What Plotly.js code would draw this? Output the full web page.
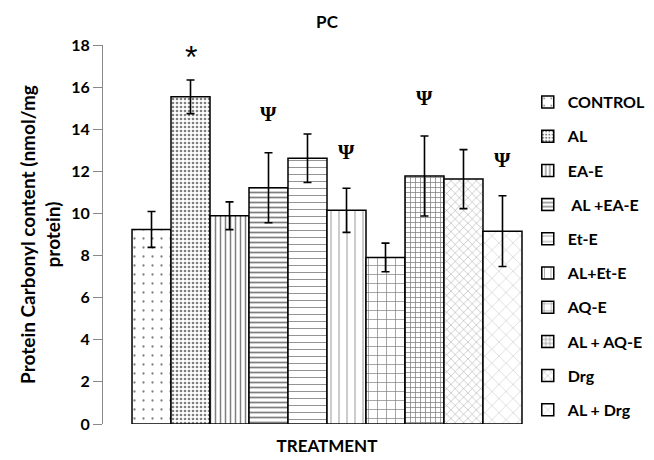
<!DOCTYPE html>
<html>
<head>
<meta charset="utf-8">
<script src="https://cdn.plot.ly/plotly-3.0.1.min.js"></script>
<style>html,body{margin:0;padding:0;background:#fff;}#chart{width:654px;height:460px;}</style>
</head>
<body>
<div id="chart"></div>
<script>
var groups = ["CONTROL", "AL", "EA-E", " AL +EA-E", "Et-E", "AL+Et-E", "AQ-E", "AL + AQ-E", "Drg", "AL + Drg"];
var means = [9.24, 15.54, 9.89, 11.22, 12.62, 10.15, 7.91, 11.78, 11.63, 9.16];
var errs = [0.85, 0.8, 0.66, 1.66, 1.15, 1.05, 0.68, 1.9, 1.4, 1.68];
var marks = ["", "*", "", "Ψ", "", "Ψ", "", "Ψ", "", "Ψ"];
var markY = [0, 17.43, 0, 14.72, 0, 12.92, 0, 15.48, 0, 12.54];

var patterns = [
  {shape: ".", size: 9, solidity: 0.05},
  {shape: ".", size: 4, solidity: 0.35},
  {shape: "|", size: 5, solidity: 0.3},
  {shape: "-", size: 5, solidity: 0.35},
  {shape: "-", size: 7, solidity: 0.12},
  {shape: "|", size: 8, solidity: 0.1},
  {shape: "+", size: 9, solidity: 0.15},
  {shape: "+", size: 5, solidity: 0.28},
  {shape: "x", size: 6, solidity: 0.12},
  {shape: "x", size: 10, solidity: 0.05}
];

var traces = groups.map(function (g, i) {
  var p = patterns[i];
  return {
    type: "bar",
    name: g,
    legendgroup: "g" + i,
    x: [i + 1],
    y: [means[i]],
    width: 1,
    error_y: {type: "data", array: [errs[i]], visible: true, color: "#000", thickness: 1.6, width: 4},
    marker: {
      color: "#fff",
      line: {color: "#000", width: 1.5},
      pattern: {shape: p.shape, size: p.size, solidity: p.solidity, fgcolor: "#000", bgcolor: "#fff", fillmode: "overlay"}
    },
    hoverinfo: "skip"
  };
});

var annotations = [];
marks.forEach(function (m, i) {
  if (!m) return;
  annotations.push({
    x: i + 1, y: markY[i], xref: "x", yref: "y", text: m, showarrow: false,
    font: m === "*" ? {family: "Liberation Sans, Arial", size: 32, color: "#000"}
                    : {family: "Liberation Serif, Times New Roman, serif", size: 21, color: "#000", weight: "bold"},
    yanchor: "middle", xanchor: "center"
  });
});

var layout = {
  width: 654, height: 460,
  margin: {l: 103, r: 103, t: 45, b: 36, autoexpand: false},
  paper_bgcolor: "#fff", plot_bgcolor: "#fff",
  font: {family: "Lato, 'Open Sans', sans-serif", color: "#000"},
  title: {text: "<b>PC</b>", font: {size: 17, color: "#000"}, x: 0.5, xref: "paper", y: 0.952, yref: "container", yanchor: "middle"},
  barmode: "overlay",
  showlegend: true,
  legend: {
    xref: "container", yref: "container",
    x: 0.807, xanchor: "left", y: 0.815, yanchor: "top",
    font: {size: 16, color: "#000", weight: "bold"},
    tracegroupgap: 10.4, itemwidth: 30, bgcolor: "rgba(0,0,0,0)",
    maxheight: 440
  },
  xaxis: {
    range: [-0.244, 11.244], showticklabels: false, ticks: "", showline: false, showgrid: false, zeroline: false,
    title: {text: "<b>TREATMENT</b>", font: {size: 17, color: "#000"}, standoff: 16},
    automargin: false
  },
  yaxis: {
    range: [0, 18], dtick: 2, tick0: 0, showgrid: false, zeroline: false,
    showline: true, linecolor: "#888", linewidth: 1,
    ticks: "outside", ticklen: 9, tickcolor: "#888", tickwidth: 1,
    tickfont: {size: 16, color: "#000", weight: "bold"},
    title: {text: "<b>Protein Carbonyl content (nmol/mg<br>protein)</b>", font: {size: 19, color: "#000"}, standoff: 5},
    automargin: false
  },
  annotations: annotations
};

Plotly.newPlot("chart", traces, layout, {displayModeBar: false, staticPlot: true});
</script>
</body>
</html>
